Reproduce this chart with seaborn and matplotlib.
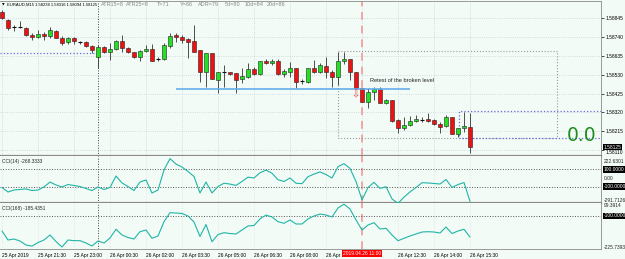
import matplotlib
matplotlib.use('Agg')
import matplotlib.pyplot as plt
import matplotlib.transforms as mtrans
import numpy as np
import seaborn as sns

# EURAUD M15, 25 Apr 2019 20:00 -> 26 Apr 15:30 (79 bars)
opens = [1.58878, 1.58834, 1.58797, 1.58795, 1.58789, 1.58750, 1.58739, 1.58756, 1.58745, 1.58772,
         1.58733, 1.58711, 1.58733, 1.58712, 1.58711, 1.58689, 1.58627, 1.58683, 1.58655, 1.58672,
         1.58717, 1.58678, 1.58655, 1.58627, 1.58661, 1.58672, 1.58617, 1.58616, 1.58689, 1.58750,
         1.58739, 1.58728, 1.58717, 1.58666, 1.58544, 1.58650, 1.58499, 1.58545, 1.58544, 1.58538,
         1.58505, 1.58516, 1.58560, 1.58533, 1.58605, 1.58594, 1.58605, 1.58533, 1.58544, 1.58566,
         1.58495, 1.58488, 1.58566, 1.58544, 1.58577, 1.58544, 1.58516, 1.58605, 1.58616, 1.58544,
         1.58454, 1.58376, 1.58432, 1.58449, 1.58371, 1.58387, 1.58276, 1.58231, 1.58248, 1.58270,
         1.58277, 1.58281, 1.58276, 1.58254, 1.58242, 1.58293, 1.58198, 1.58231, 1.58238]
highs = [1.58890, 1.58839, 1.58806, 1.58828, 1.58795, 1.58761, 1.58778, 1.58767, 1.58795, 1.58778,
         1.58745, 1.58739, 1.58739, 1.58717, 1.58717, 1.58694, 1.58694, 1.58689, 1.58706, 1.58722,
         1.58750, 1.58683, 1.58655, 1.58666, 1.58694, 1.58700, 1.58627, 1.58706, 1.58761, 1.58761,
         1.58750, 1.58733, 1.58806, 1.58666, 1.58650, 1.58650, 1.58544, 1.58583, 1.58544, 1.58538,
         1.58566, 1.58594, 1.58572, 1.58605, 1.58616, 1.58616, 1.58616, 1.58560, 1.58600, 1.58566,
         1.58505, 1.58566, 1.58611, 1.58594, 1.58627, 1.58555, 1.58655, 1.58655, 1.58616, 1.58544,
         1.58454, 1.58454, 1.58460, 1.58460, 1.58393, 1.58387, 1.58281, 1.58293, 1.58298, 1.58304,
         1.58293, 1.58315, 1.58281, 1.58265, 1.58304, 1.58293, 1.58231, 1.58321, 1.58316]
lows = [1.58839, 1.58778, 1.58772, 1.58789, 1.58745, 1.58722, 1.58733, 1.58722, 1.58733, 1.58733,
        1.58694, 1.58700, 1.58700, 1.58700, 1.58683, 1.58650, 1.58566, 1.58650, 1.58611, 1.58666,
        1.58655, 1.58650, 1.58622, 1.58605, 1.58655, 1.58605, 1.58605, 1.58611, 1.58678, 1.58711,
        1.58706, 1.58622, 1.58655, 1.58488, 1.58460, 1.58505, 1.58427, 1.58460, 1.58527, 1.58427,
        1.58482, 1.58510, 1.58527, 1.58527, 1.58588, 1.58583, 1.58527, 1.58516, 1.58516, 1.58454,
        1.58477, 1.58482, 1.58538, 1.58538, 1.58510, 1.58460, 1.58471, 1.58588, 1.58499, 1.58449,
        1.58376, 1.58343, 1.58387, 1.58371, 1.58365, 1.58265, 1.58203, 1.58220, 1.58242, 1.58265,
        1.58265, 1.58265, 1.58248, 1.58203, 1.58237, 1.58198, 1.58181, 1.58209, 1.58094]
closes = [1.58845, 1.58789, 1.58794, 1.58793, 1.58750, 1.58739, 1.58756, 1.58745, 1.58778, 1.58733,
          1.58706, 1.58733, 1.58717, 1.58710, 1.58689, 1.58666, 1.58683, 1.58655, 1.58672, 1.58717,
          1.58678, 1.58655, 1.58627, 1.58661, 1.58672, 1.58605, 1.58615, 1.58694, 1.58745, 1.58739,
          1.58722, 1.58711, 1.58655, 1.58544, 1.58650, 1.58505, 1.58544, 1.58543, 1.58533, 1.58499,
          1.58521, 1.58560, 1.58533, 1.58605, 1.58594, 1.58605, 1.58533, 1.58549, 1.58566, 1.58488,
          1.58493, 1.58566, 1.58544, 1.58583, 1.58544, 1.58516, 1.58605, 1.58616, 1.58544, 1.58454,
          1.58376, 1.58432, 1.58449, 1.58371, 1.58387, 1.58270, 1.58231, 1.58248, 1.58270, 1.58281,
          1.58275, 1.58270, 1.58254, 1.58237, 1.58293, 1.58198, 1.58231, 1.58242, 1.58125]

cci14 = [-109, -161, -138, -132, -126, -144, -138, -103, -46, -80,
         -103, -75, -86, -98, -121, -144, -103, -132, -109, 23,
         -57, -98, -144, -46, -23, -172, -138, 92, 222.63, 161,
         126, 75, 17, -172, -46, -172, -98, -60, -70, -85,
         -40, 10, 0, 60, 90, 55, -20, -40, 0, -60,
         -65, 15, 45, 70, 40, 0, 130, 165, 110, -40,
         -250, -110, -50, -120, -100, -240, -291.71, -220, -160, -110,
         -54, -57, -63, -69, -17, -109, -75, -52, -268.33]
cci168 = [-160.8, -197.3, -193.3, -201.4, -217.6, -222.0, -207.5, -197.3, -177.0, -203.4,
          -225.74, -197.3, -200.0, -200.0, -209.5, -221.6, -201.4, -209.5, -189.2, -153.9,
          -177.0, -187.2, -193.3, -163.6, -156.8, -190.4, -181.1, -123.1, -86.6, -87.8,
          -89.8, -100.0, -124.3, -183.0, -134.4, -204.2, -175.0, -167.7, -171.0, -173.0,
          -156.8, -140.5, -138.5, -112.0, -96.0, -104.0, -123.0, -129.6, -116.0, -132.4,
          -132.4, -112.0, -100.0, -92.0, -96.0, -104.0, -67.5, -52.0, -71.6, -116.0,
          -156.8, -136.5, -127.1, -152.7, -149.9, -177.0, -200.2, -190.4, -181.1, -173.0,
          -164.9, -163.7, -164.9, -168.9, -144.6, -171.0, -160.8, -153.9, -185.43]

price_ticks = [1.58845, 1.58740, 1.58635, 1.58530, 1.58425, 1.58320, 1.58215, 1.58110]
date_pos = [0, 6, 12, 18, 24, 30, 36, 42, 48, 54, 66, 72, 78]
date_labels = ['25 Apr 2019', '25 Apr 21:30', '25 Apr 23:00', '26 Apr 00:30', '26 Apr 02:00',
               '26 Apr 03:30', '26 Apr 05:00', '26 Apr 06:30', '26 Apr 08:00', '26 Apr',
               '26 Apr 12:30', '26 Apr 14:00', '26 Apr 15:30']
day_sep = 16          # 26 Apr 00:00
marked_bar = 60       # 26 Apr 11:00
broken_level = 1.58452
old_level = 1.58650
zone_top, zone_bot = 1.58661, 1.58177
box_top, box_bot = 1.58326, 1.58179

bg = '#F3FBF6'
sns.set_style('white', {'axes.facecolor': bg, 'figure.facecolor': bg})
plt.rcParams['font.family'] = ['Liberation Sans', 'DejaVu Sans']
fs = 3.5

W, H = 625, 259
fig = plt.figure(figsize=(6.25, 2.59), dpi=100, facecolor=bg)


def box(y0, y1):
    return [0, 1 - y1 / H, 601 / W, (y1 - y0) / H]


ax1 = fig.add_axes(box(1, 155.5))
ax2 = fig.add_axes(box(155.5, 203))
ax3 = fig.add_axes(box(203, 249))

x = np.arange(len(opens))
o = np.array(opens)
c = np.array(closes)
xlim = (-1 / 3, 599 / 6)

# candles
ax1.vlines(x, lows, highs, color='#333333', lw=0.6, zorder=3)
body = np.abs(c - o)
doji = body < 0.00004
cols = np.where(c >= o, '#22E022', '#F01010')
ax1.bar(x[~doji], body[~doji], bottom=np.minimum(o, c)[~doji], width=0.68,
        color=cols[~doji], edgecolor='#222222', lw=0.4, zorder=4)
ax1.hlines(o[doji], x[doji] - 0.36, x[doji] + 0.36, color='#111111', lw=0.8, zorder=4)

ax1.set_xlim(xlim)
ax1.set_ylim(1.580794, 1.589415)
ax1.yaxis.tick_right()
ax1.set_yticks(price_ticks)
ax1.set_yticklabels(['%.5f' % p for p in price_ticks])
ax1.set_xticks(date_pos + [marked_bar])
ax1.tick_params(axis='x', length=0, labelbottom=False)
ax1.tick_params(axis='y', length=2, width=0.5, pad=1.5, labelsize=fs, colors='black')
ax1.get_yticklabels()[-1].set_va('top')
ax1.grid(True, color='#C5D3DA', ls=':', lw=0.6)

# annotations
ax1.hlines(old_level, xlim[0], 15.5, color='#6A6AE0', ls=':', lw=0.9, zorder=2)
ax1.hlines(broken_level, 29, 68, color='#62AEEA', lw=1.2, zorder=5)
ax1.plot([56, 92.5, 92.5, 56, 56], [zone_top, zone_top, zone_bot, zone_bot, zone_top],
         color='#9A9A9A', ls=':', lw=0.8, zorder=2)
ax1.plot([xlim[1], 76.2, 76.2, xlim[1]], [box_top, box_top, box_bot, box_bot],
         color='#6A6AE0', ls=':', lw=0.9, zorder=2, clip_on=False)
ax1.text(61.4, 1.58499, 'Retest of the broken level', fontsize=4.1, color='#222222',
         ha='left', va='center', zorder=6)
ax1.text(58.9, 1.58421, '\u21e9', fontsize=7, color='#F04040', ha='center', va='center',
         family='DejaVu Sans', zorder=6)
ax1.text(94.2, 1.58192, '0.0', fontsize=13.5, color='#1E8C1E', ha='left', va='center',
         family='DejaVu Sans', zorder=6)

trp = mtrans.blended_transform_factory(ax1.transAxes, ax1.transData)
ax1.text(1.004, closes[-1], '%.5f' % closes[-1], transform=trp, fontsize=fs,
         color='white', ha='left', va='center', clip_on=False, zorder=10,
         bbox=dict(boxstyle='square,pad=0.08', fc='black', ec='none'))

# CCI panels
sns.lineplot(x=x, y=cci14, ax=ax2, color='#1FB5A8', lw=0.8, zorder=4)
sns.lineplot(x=x, y=cci168, ax=ax3, color='#1FB5A8', lw=0.8, zorder=4)
ax2.set_ylim(-287.3, 258.6)
ax3.set_ylim(-233.8, -47.3)
for lv in (100, -100):
    ax2.axhline(lv, color='#555555', ls=':', lw=0.7, zorder=2)
ax3.axhline(-100, color='#555555', ls=':', lw=0.7, zorder=2)

tr2 = mtrans.blended_transform_factory(ax2.transAxes, ax2.transData)
tr3 = mtrans.blended_transform_factory(ax3.transAxes, ax3.transData)
lab = dict(fontsize=fs, ha='left', clip_on=False)
boxed = dict(color='white', bbox=dict(boxstyle='square,pad=0.15', fc='black', ec='none'))
ax2.text(1.004, 222.63, '222.6301', transform=tr2, va='top', **lab)
ax2.text(1.004, 100, '100.0000', transform=tr2, va='center', **lab, **boxed)
ax2.text(1.004, 0, '0.00', transform=tr2, va='center', **lab)
ax2.text(1.004, -100, '-100.0000', transform=tr2, va='center', **lab, **boxed)
ax2.text(1.004, -287.3, '-291.7126', transform=tr2, va='bottom', **lab)
ax3.text(1.004, -47.3, '99.3914', transform=tr3, va='top', **lab)
ax3.text(1.004, -100, '-100.0000', transform=tr3, va='center', **lab, **boxed)
ax3.text(1.004, -225.74, '-225.7393', transform=tr3, va='center', **lab)
ax2.text(0.004, 0.93, 'CCI(14) -268.3333', transform=ax2.transAxes, fontsize=fs,
         ha='left', va='top')
ax3.text(0.004, 0.93, 'CCI(168) -185.4351', transform=ax3.transAxes, fontsize=fs,
         ha='left', va='top')

for ax in (ax2, ax3):
    ax.set_xlim(xlim)
    ax.set_yticks([])
    ax.set_xlabel('')
    ax.set_ylabel('')
    ax.grid(True, axis='x', color='#D2DDE2', ls=':', lw=0.5)
ax2.set_xticks(date_pos + [marked_bar])
ax2.tick_params(axis='x', length=0, labelbottom=False)
ax3.set_xticks(date_pos)
ax3.set_xticklabels(date_labels)
ax3.tick_params(axis='x', length=2, width=0.5, pad=0.8, labelsize=fs, colors='black')
for t in ax3.get_xticklabels():
    t.set_ha('left')

# vertical markers through all panels
for ax in (ax1, ax2, ax3):
    ax.axvline(day_sep, color='#444444', ls=':', lw=0.7, zorder=2)
    ax.axvline(marked_bar, color='#F5A5A5', ls=(0, (4, 3)), lw=1.4, zorder=1)
    for s in ax.spines.values():
        s.set_color('#8A8A8A')
        s.set_linewidth(0.6)
    ax.spines['left'].set_visible(False)
ax1.spines['bottom'].set_linewidth(1.6)
ax2.spines['bottom'].set_linewidth(1.6)
ax2.spines['top'].set_visible(False)
ax3.spines['top'].set_visible(False)

trd = mtrans.blended_transform_factory(ax3.transData, ax3.transAxes)
ax3.text(marked_bar, -0.045, '2019.04.26 11:00', transform=trd, fontsize=fs,
         color='white', ha='center', va='top', clip_on=False, zorder=10,
         bbox=dict(boxstyle='square,pad=0.25', fc='#FF0000', ec='none'))

# header line
hy = 1 - 5 / H
fig.text(2 / W, hy, '\u25bc', fontsize=2.5, color='black', va='center', family='DejaVu Sans')
fig.text(7 / W, hy, 'EURAUD,M15 1.58238 1.58316 1.58094 1.58125', fontsize=3.0,
         color='black', va='center')
for px, s in [(101, 'ATR15=8'), (126, 'ATR25=8'), (157, 'T=71'), (180, 'Y=66'),
              (198, 'ADR=79'), (225, '5d=80'), (245, '10d=84'), (267, '20d=86')]:
    fig.text(px / W, hy, s, fontsize=4.0, color='#8A8A8A', va='center')

fig.savefig('out.png', dpi=100, facecolor=bg)
